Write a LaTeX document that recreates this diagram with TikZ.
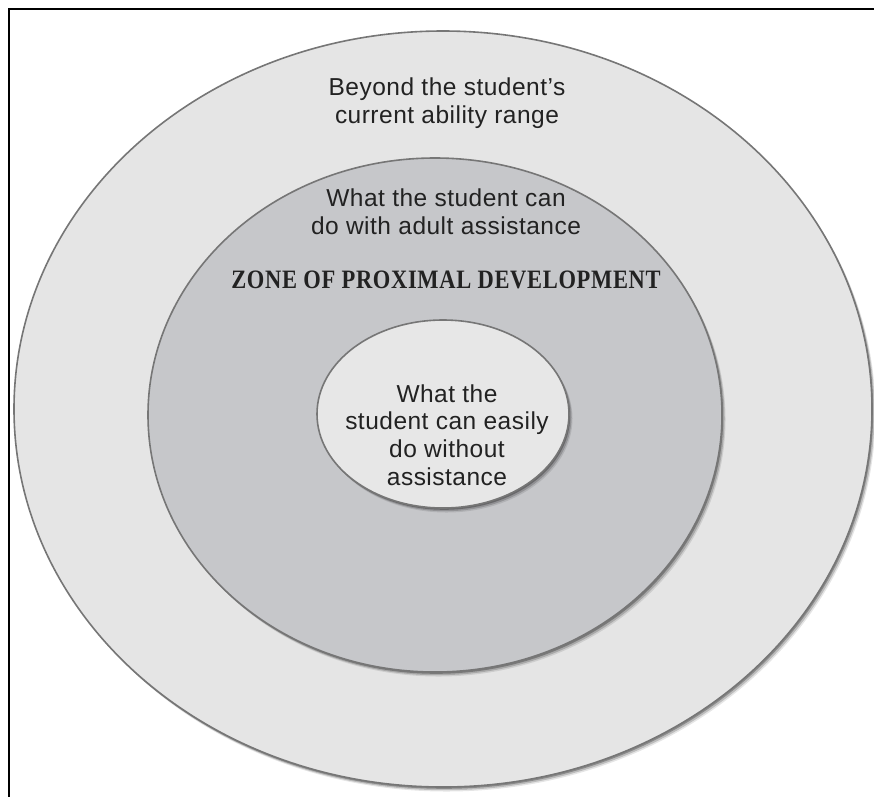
\documentclass[tikz,border=0pt]{standalone}
\usepackage{fontspec}
\usepackage{graphicx}
\setmainfont[LetterSpace=2]{Liberation Sans}
\newfontfamily\zpdfont[LetterSpace=3,UprightFont=* Bold]{Liberation Serif}
\usetikzlibrary{shapes.geometric,shadows}
\definecolor{outerfill}{HTML}{E5E5E5}
\definecolor{midfill}{HTML}{C6C7CA}
\definecolor{innerfill}{HTML}{E7E7E7}
\definecolor{ringedge}{HTML}{767676}
\definecolor{txt}{HTML}{222222}
\begin{document}
\begin{tikzpicture}[x=1pt,y=-1pt,
  ring/.style={ellipse, draw=ringedge, line width=1.6pt, inner sep=0pt,
    drop shadow={shadow xshift=3.5pt, shadow yshift=-4.5pt, opacity=0.10, fill=black},
    drop shadow={shadow xshift=2.5pt, shadow yshift=-3.2pt, opacity=0.18, fill=black},
    drop shadow={shadow xshift=1.2pt, shadow yshift=-1.8pt, opacity=0.28, fill=black}},
  label/.style={text=txt, align=center, font=\fontsize{24.5}{27.6}\selectfont},
  zpd/.style={text=txt, font=\zpdfont\fontsize{22.5}{24}\selectfont}]
\useasboundingbox (0,0) rectangle (874,796);
\draw[line width=2pt, black] (9,800) coordinate (fl) -- (9,9) coordinate (fc) -- (880,9) coordinate (fr);
\node[ring, fill=outerfill, minimum width=858pt, minimum height=756pt] (outer) at (443,409) {};
\node[ring, fill=midfill, minimum width=574pt, minimum height=514pt] (middle) at (435,415) {};
\node[ring, fill=innerfill, minimum width=252pt, minimum height=188pt] (inner) at (443,414) {};
\node[label] (beyond) at (447,103) {Beyond the student’s\\current ability range};
\node[label] (assist) at (446,212) {What the student can\\do with adult assistance};
\node[zpd, anchor=base] (zone) at (446,288) {\scalebox{1}[1.18]{ZONE OF PROXIMAL DEVELOPMENT}};
\node[label, font=\fontsize{24.5}{27.7}\selectfont] (easy) at (447,435) {What the\\student can easily\\do without\\assistance};
\end{tikzpicture}
\end{document}
